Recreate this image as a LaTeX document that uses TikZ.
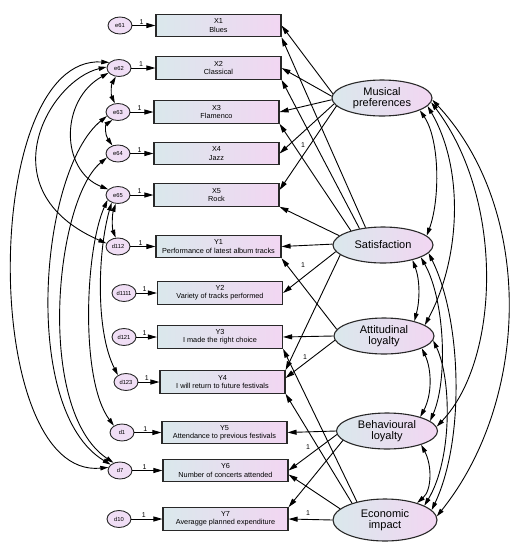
\documentclass[tikz,border=0pt]{standalone}
\usepackage{fontspec}
\setmainfont{Liberation Sans}
\usetikzlibrary{arrows.meta,shapes.geometric}
\definecolor{bl}{RGB}{218,232,236}
\definecolor{pk}{RGB}{242,214,242}
\definecolor{ep}{RGB}{240,222,245}
\definecolor{ln}{RGB}{40,40,40}
\begin{document}
\begin{tikzpicture}[x=1pt,y=-1pt,
  errnode/.style={ellipse, draw=ln, line width=0.9pt, fill=ep, minimum width=24pt, minimum height=17pt, inner sep=0pt, font=\fontsize{5.8}{6}\selectfont},
  obs/.style={rectangle, draw=ln, line width=1.1pt, left color=bl, right color=pk, minimum width=125pt, minimum height=22.5pt, inner sep=0pt, align=center, font=\fontsize{7.3}{8.3}\selectfont},
  lat/.style={ellipse, draw=ln, line width=1.1pt, left color=bl, right color=pk, minimum width=100pt, minimum height=36pt, inner sep=0pt, align=center, font=\fontsize{11}{11.5}\selectfont},
  arr/.style={-{Triangle[length=9pt,width=5pt]}, line width=0.9pt, draw=black},
  cov/.style={{Triangle[length=8pt,width=4.5pt]}-{Triangle[length=8pt,width=4.5pt]}, line width=0.9pt, draw=black},
  one/.style={font=\fontsize{7}{7}\selectfont, inner sep=1pt}]
\useasboundingbox (0,0) rectangle (517,550);
% observed boxes
\node[obs] (x1) at (218.5,25.5) {X1\\Blues};
\node[obs] (x2) at (218.5,68) {X2\\Classical};
\node[obs] (x3) at (216.5,112) {X3\\Flamenco};
\node[obs] (x4) at (216.5,153.5) {X4\\Jazz};
\node[obs] (x5) at (216.5,195) {X5\\Rock};
\node[obs] (y1) at (218.5,246.5) {Y1\\Performance of latest album tracks};
\node[obs] (y2) at (220,293) {Y2\\Variety of tracks performed};
\node[obs] (y3) at (220,337) {Y3\\I made the right choice};
\node[obs] (y4) at (222.5,382) {Y4\\I will return to future festivals};
\node[obs] (y5) at (224.5,432.5) {Y5\\Attendance to previous festivals};
\node[obs] (y6) at (225.5,470.5) {Y6\\Number of concerts attended};
\node[obs] (y7) at (225.5,519) {Y7\\Averagge planned expenditure};
% error terms
\node[errnode] (e61) at (120,25.5) {e61};
\node[errnode] (e62) at (119,68) {e62};
\node[errnode] (e63) at (118,112) {e63};
\node[errnode] (e64) at (118,153.5) {e64};
\node[errnode] (e65) at (118,195) {e65};
\node[errnode] (d112) at (118,246.5) {d112};
\node[errnode] (d1111) at (124,293) {d1111};
\node[errnode] (d121) at (124,337) {d121};
\node[errnode] (d123) at (126,382) {d123};
\node[errnode] (d1) at (122,432.5) {d1};
\node[errnode] (d7) at (120,470.5) {d7};
\node[errnode] (d10) at (119,519) {d10};
% latent
\node[lat] (mp) at (382,98) {Musical\\preferences};
\node[lat] (sat) at (383,245) {Satisfaction};
\node[lat] (al) at (384,336) {Attitudinal\\loyalty};
\node[lat, minimum width=101pt] (bl) at (387,431) {Behavioural\\loyalty};
\node[lat, minimum width=104pt, minimum height=42pt] (ei) at (385,520) {Economic\\impact};
% error -> indicator
\foreach \e/\o in {e61/x1,e62/x2,e63/x3,e64/x4,e65/x5,d112/y1,d1111/y2,d121/y3,d123/y4,d1/y5,d7/y6,d10/y7}
  \draw[arr] (\e) -- node[one,pos=0.4,above]{1} (\o);
% latent -> indicator
\draw[arr] (mp.175) -- (x1.east);
\draw[arr] (mp.178) -- (x2.east);
\draw[arr] (mp.182) -- (x3.east);
\draw[arr] (mp.187) -- (x4.east);
\draw[arr] (mp.190) -- ([yshift=5pt]x5.east);
\draw[arr] (sat.135) -- (x1.south east);
\draw[arr] (sat.145) -- (x2.south east);
\draw[arr] (sat.156) -- (x3.south east);
\draw[arr] (sat.168) -- (x5.south east);
\draw[arr] (sat.179) -- (y1.east);
\draw[arr] (sat.188) -- (y2.east);
\draw[arr] (sat.193) -- (y4.north east);
\draw[arr] (al.172) -- (y1.south east);
\draw[arr] (al.180) -- (y3.east);
\draw[arr] (al.185) -- ([yshift=4pt]y4.east);
\draw[arr] (ei.147) -- (y3.south east);
\draw[arr] (ei.153) -- (y4.south east);
\draw[arr] (ei.166) -- ([yshift=-4pt]y6.east);
\draw[arr] (ei.180) -- (y7.east);
\draw[arr] (bl.180) -- (y5.east);
\draw[arr] (bl.184) -- (y6.east);
\draw[arr] (bl.192) -- (y7.north east);
% fixed loading labels
\node[one] (l1) at (303,145) {1};
\node[one] (l2) at (303,265) {1};
\node[one] (l3) at (305,357) {1};
\node[one] (l4) at (308,447) {1};
\node[one] (l5) at (308,513) {1};
% covariances among latent variables
\draw[cov] (mp.-18) .. controls (440,140) and (440,200) .. (sat.12);
\draw[cov] (mp.-10) .. controls (465,170) and (460,260) .. (al.15);
\draw[cov] (mp.-5) .. controls (505,200) and (500,360) .. (bl.5);
\draw[cov] (mp.-2) .. controls (535,210) and (530,400) .. (ei.4);
\draw[cov] (sat.-27) .. controls (420,280) and (420,300) .. (al.26);
\draw[cov] (sat.-18) .. controls (445,300) and (448,380) .. (bl.13);
\draw[cov] (sat.-10) .. controls (462,320) and (465,440) .. (ei.12);
\draw[cov] (al.-18) .. controls (432,370) and (432,395) .. (bl.23);
\draw[cov] (al.-5) .. controls (452,380) and (452,460) .. (ei.20);
\draw[cov] (bl.-22) .. controls (432,465) and (432,490) .. (ei.28);
% covariances among error terms
\draw[cov] (e62.150) .. controls (-20,55) and (-20,480) .. (d7.165);
\draw[cov] (e62.175) .. controls (50,80) and (-15,190) .. (d112.165);
\draw[cov] (e62.205) .. controls (60,100) and (60,170) .. (e65.150);
\draw[cov] (e62.250) .. controls (111,85) and (111,95) .. (e63.110);
\draw[cov] (e63.235) .. controls (105,125) and (105,135) .. (e64.125);
\draw[cov] (e65.255) .. controls (112,215) and (112,228) .. (d112.105);
\draw[cov] (e63.200) .. controls (40,170) and (20,410) .. (d7.148);
\draw[cov] (e64.200) .. controls (55,200) and (35,410) .. (d7.130);
\draw[cov] (e65.205) .. controls (85,250) and (80,380) .. (d1.140);
\draw[cov] (e65.230) .. controls (98,250) and (95,330) .. (d123.140);
\end{tikzpicture}
\end{document}
